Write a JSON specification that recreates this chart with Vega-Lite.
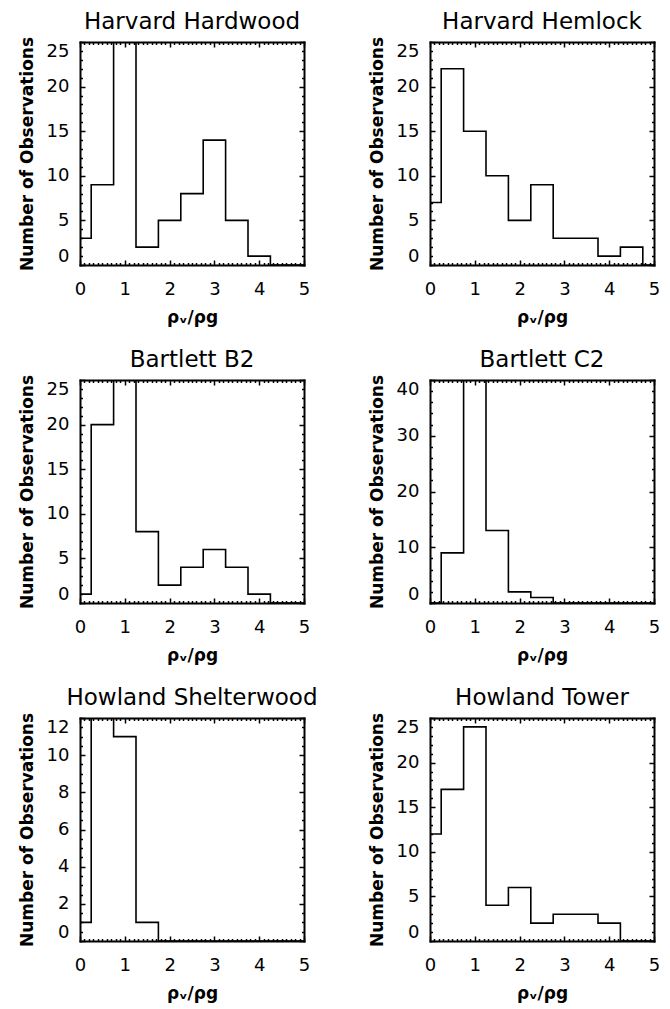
{
  "$schema": "https://vega.github.io/schema/vega-lite/v6.json",
  "background": "white",
  "padding": {"left": 18, "top": 11, "right": 5, "bottom": 5},
  "data": {"values": [
    {"site": "Harvard Hardwood", "x": 0, "n": 3},
    {"site": "Harvard Hardwood", "x": 0.25, "n": 9},
    {"site": "Harvard Hardwood", "x": 0.75, "n": 32},
    {"site": "Harvard Hardwood", "x": 1.25, "n": 2},
    {"site": "Harvard Hardwood", "x": 1.75, "n": 5},
    {"site": "Harvard Hardwood", "x": 2.25, "n": 8},
    {"site": "Harvard Hardwood", "x": 2.75, "n": 14},
    {"site": "Harvard Hardwood", "x": 3.25, "n": 5},
    {"site": "Harvard Hardwood", "x": 3.75, "n": 1},
    {"site": "Harvard Hardwood", "x": 4.25, "n": 0},
    {"site": "Harvard Hardwood", "x": 5, "n": 0},
    {"site": "Harvard Hemlock", "x": 0, "n": 7},
    {"site": "Harvard Hemlock", "x": 0.25, "n": 22},
    {"site": "Harvard Hemlock", "x": 0.75, "n": 15},
    {"site": "Harvard Hemlock", "x": 1.25, "n": 10},
    {"site": "Harvard Hemlock", "x": 1.75, "n": 5},
    {"site": "Harvard Hemlock", "x": 2.25, "n": 9},
    {"site": "Harvard Hemlock", "x": 2.75, "n": 3},
    {"site": "Harvard Hemlock", "x": 3.25, "n": 3},
    {"site": "Harvard Hemlock", "x": 3.75, "n": 1},
    {"site": "Harvard Hemlock", "x": 4.25, "n": 2},
    {"site": "Harvard Hemlock", "x": 4.75, "n": 0},
    {"site": "Harvard Hemlock", "x": 5, "n": 0},
    {"site": "Bartlett B2", "x": 0, "n": 1},
    {"site": "Bartlett B2", "x": 0.25, "n": 20},
    {"site": "Bartlett B2", "x": 0.75, "n": 30},
    {"site": "Bartlett B2", "x": 1.25, "n": 8},
    {"site": "Bartlett B2", "x": 1.75, "n": 2},
    {"site": "Bartlett B2", "x": 2.25, "n": 4},
    {"site": "Bartlett B2", "x": 2.75, "n": 6},
    {"site": "Bartlett B2", "x": 3.25, "n": 4},
    {"site": "Bartlett B2", "x": 3.75, "n": 1},
    {"site": "Bartlett B2", "x": 4.25, "n": 0},
    {"site": "Bartlett B2", "x": 5, "n": 0},
    {"site": "Bartlett C2", "x": 0, "n": 0},
    {"site": "Bartlett C2", "x": 0.25, "n": 9},
    {"site": "Bartlett C2", "x": 0.75, "n": 50},
    {"site": "Bartlett C2", "x": 1.25, "n": 13},
    {"site": "Bartlett C2", "x": 1.75, "n": 2},
    {"site": "Bartlett C2", "x": 2.25, "n": 1},
    {"site": "Bartlett C2", "x": 2.75, "n": 0},
    {"site": "Bartlett C2", "x": 5, "n": 0},
    {"site": "Howland Shelterwood", "x": 0, "n": 1},
    {"site": "Howland Shelterwood", "x": 0.25, "n": 15},
    {"site": "Howland Shelterwood", "x": 0.75, "n": 11},
    {"site": "Howland Shelterwood", "x": 1.25, "n": 1},
    {"site": "Howland Shelterwood", "x": 1.75, "n": 0},
    {"site": "Howland Shelterwood", "x": 5, "n": 0},
    {"site": "Howland Tower", "x": 0, "n": 12},
    {"site": "Howland Tower", "x": 0.25, "n": 17},
    {"site": "Howland Tower", "x": 0.75, "n": 24},
    {"site": "Howland Tower", "x": 1.25, "n": 4},
    {"site": "Howland Tower", "x": 1.75, "n": 6},
    {"site": "Howland Tower", "x": 2.25, "n": 2},
    {"site": "Howland Tower", "x": 2.75, "n": 3},
    {"site": "Howland Tower", "x": 3.25, "n": 3},
    {"site": "Howland Tower", "x": 3.75, "n": 2},
    {"site": "Howland Tower", "x": 4.25, "n": 0},
    {"site": "Howland Tower", "x": 5, "n": 0}
  ]},
  "columns": 2,
  "spacing": {"row": 115, "column": 126},
  "bounds": "flush",
  "concat": [
    {
      "title": "Harvard Hardwood",
      "width": 224, "height": 223,
      "transform": [{"filter": {"field": "site", "equal": "Harvard Hardwood"}}],
      "layer": [
        {"mark": {"type": "line", "interpolate": "step-after", "clip": true, "color": "black", "strokeWidth": 1.6},
         "encoding": {
           "x": {"field": "x", "type": "quantitative", "scale": {"domain": [0, 5], "nice": false, "zero": false},
                 "axis": {"orient": "bottom", "values": [0,1,2,3,4,5], "tickSize": -5, "format": "d", "labelFlush": false, "labelPadding": 20, "title": "ρᵥ/ρg", "titlePadding": 11}},
           "y": {"field": "n", "type": "quantitative", "scale": {"domain": [0, 25], "nice": false},
                 "axis": {"orient": "left", "values": [0,5,10,15,20,25], "tickSize": -5, "format": "d", "labelFlush": true, "labelPadding": 16, "title": "Number of Observations", "titlePadding": 10}}}},
        {"mark": {"type": "line", "interpolate": "step-after", "clip": true, "opacity": 0},
         "encoding": {
           "x": {"field": "x", "type": "quantitative", "axis": {"orient": "top", "values": [0,1,2,3,4,5], "tickSize": -5, "labels": false, "title": null}},
           "y": {"field": "n", "type": "quantitative", "axis": {"orient": "right", "values": [0,5,10,15,20,25], "tickSize": -5, "labels": false, "title": null}}}},
        {"mark": {"type": "line", "interpolate": "step-after", "clip": true, "opacity": 0},
         "encoding": {
           "x": {"field": "x", "type": "quantitative", "axis": {"orient": "bottom", "values": [0.1,0.2,0.3,0.4,0.5,0.6,0.7,0.8,0.9,1.1,1.2,1.3,1.4,1.5,1.6,1.7,1.8,1.9,2.1,2.2,2.3,2.4,2.5,2.6,2.7,2.8,2.9,3.1,3.2,3.3,3.4,3.5,3.6,3.7,3.8,3.9,4.1,4.2,4.3,4.4,4.5,4.6,4.7,4.8,4.9], "tickSize": -2.5, "labels": false, "domain": false, "title": null}},
           "y": {"field": "n", "type": "quantitative", "axis": {"orient": "left", "values": [1,2,3,4,6,7,8,9,11,12,13,14,16,17,18,19,21,22,23,24], "tickSize": -2.5, "labels": false, "domain": false, "title": null}}}},
        {"mark": {"type": "line", "interpolate": "step-after", "clip": true, "opacity": 0},
         "encoding": {
           "x": {"field": "x", "type": "quantitative", "axis": {"orient": "top", "values": [0.1,0.2,0.3,0.4,0.5,0.6,0.7,0.8,0.9,1.1,1.2,1.3,1.4,1.5,1.6,1.7,1.8,1.9,2.1,2.2,2.3,2.4,2.5,2.6,2.7,2.8,2.9,3.1,3.2,3.3,3.4,3.5,3.6,3.7,3.8,3.9,4.1,4.2,4.3,4.4,4.5,4.6,4.7,4.8,4.9], "tickSize": -2.5, "labels": false, "domain": false, "title": null}},
           "y": {"field": "n", "type": "quantitative", "axis": {"orient": "right", "values": [1,2,3,4,6,7,8,9,11,12,13,14,16,17,18,19,21,22,23,24], "tickSize": -2.5, "labels": false, "domain": false, "title": null}}}}
      ],
      "resolve": {"axis": {"x": "independent", "y": "independent"}}
    },
    {
      "title": "Harvard Hemlock",
      "width": 224, "height": 223,
      "transform": [{"filter": {"field": "site", "equal": "Harvard Hemlock"}}],
      "layer": [
        {"mark": {"type": "line", "interpolate": "step-after", "clip": true, "color": "black", "strokeWidth": 1.6},
         "encoding": {
           "x": {"field": "x", "type": "quantitative", "scale": {"domain": [0, 5], "nice": false, "zero": false},
                 "axis": {"orient": "bottom", "values": [0,1,2,3,4,5], "tickSize": -5, "format": "d", "labelFlush": false, "labelPadding": 20, "title": "ρᵥ/ρg", "titlePadding": 11}},
           "y": {"field": "n", "type": "quantitative", "scale": {"domain": [0, 25], "nice": false},
                 "axis": {"orient": "left", "values": [0,5,10,15,20,25], "tickSize": -5, "format": "d", "labelFlush": true, "labelPadding": 16, "title": "Number of Observations", "titlePadding": 10}}}},
        {"mark": {"type": "line", "interpolate": "step-after", "clip": true, "opacity": 0},
         "encoding": {
           "x": {"field": "x", "type": "quantitative", "axis": {"orient": "top", "values": [0,1,2,3,4,5], "tickSize": -5, "labels": false, "title": null}},
           "y": {"field": "n", "type": "quantitative", "axis": {"orient": "right", "values": [0,5,10,15,20,25], "tickSize": -5, "labels": false, "title": null}}}},
        {"mark": {"type": "line", "interpolate": "step-after", "clip": true, "opacity": 0},
         "encoding": {
           "x": {"field": "x", "type": "quantitative", "axis": {"orient": "bottom", "values": [0.1,0.2,0.3,0.4,0.5,0.6,0.7,0.8,0.9,1.1,1.2,1.3,1.4,1.5,1.6,1.7,1.8,1.9,2.1,2.2,2.3,2.4,2.5,2.6,2.7,2.8,2.9,3.1,3.2,3.3,3.4,3.5,3.6,3.7,3.8,3.9,4.1,4.2,4.3,4.4,4.5,4.6,4.7,4.8,4.9], "tickSize": -2.5, "labels": false, "domain": false, "title": null}},
           "y": {"field": "n", "type": "quantitative", "axis": {"orient": "left", "values": [1,2,3,4,6,7,8,9,11,12,13,14,16,17,18,19,21,22,23,24], "tickSize": -2.5, "labels": false, "domain": false, "title": null}}}},
        {"mark": {"type": "line", "interpolate": "step-after", "clip": true, "opacity": 0},
         "encoding": {
           "x": {"field": "x", "type": "quantitative", "axis": {"orient": "top", "values": [0.1,0.2,0.3,0.4,0.5,0.6,0.7,0.8,0.9,1.1,1.2,1.3,1.4,1.5,1.6,1.7,1.8,1.9,2.1,2.2,2.3,2.4,2.5,2.6,2.7,2.8,2.9,3.1,3.2,3.3,3.4,3.5,3.6,3.7,3.8,3.9,4.1,4.2,4.3,4.4,4.5,4.6,4.7,4.8,4.9], "tickSize": -2.5, "labels": false, "domain": false, "title": null}},
           "y": {"field": "n", "type": "quantitative", "axis": {"orient": "right", "values": [1,2,3,4,6,7,8,9,11,12,13,14,16,17,18,19,21,22,23,24], "tickSize": -2.5, "labels": false, "domain": false, "title": null}}}}
      ],
      "resolve": {"axis": {"x": "independent", "y": "independent"}}
    },
    {
      "title": "Bartlett B2",
      "width": 224, "height": 223,
      "transform": [{"filter": {"field": "site", "equal": "Bartlett B2"}}],
      "layer": [
        {"mark": {"type": "line", "interpolate": "step-after", "clip": true, "color": "black", "strokeWidth": 1.6},
         "encoding": {
           "x": {"field": "x", "type": "quantitative", "scale": {"domain": [0, 5], "nice": false, "zero": false},
                 "axis": {"orient": "bottom", "values": [0,1,2,3,4,5], "tickSize": -5, "format": "d", "labelFlush": false, "labelPadding": 20, "title": "ρᵥ/ρg", "titlePadding": 11}},
           "y": {"field": "n", "type": "quantitative", "scale": {"domain": [0, 25], "nice": false},
                 "axis": {"orient": "left", "values": [0,5,10,15,20,25], "tickSize": -5, "format": "d", "labelFlush": true, "labelPadding": 16, "title": "Number of Observations", "titlePadding": 10}}}},
        {"mark": {"type": "line", "interpolate": "step-after", "clip": true, "opacity": 0},
         "encoding": {
           "x": {"field": "x", "type": "quantitative", "axis": {"orient": "top", "values": [0,1,2,3,4,5], "tickSize": -5, "labels": false, "title": null}},
           "y": {"field": "n", "type": "quantitative", "axis": {"orient": "right", "values": [0,5,10,15,20,25], "tickSize": -5, "labels": false, "title": null}}}},
        {"mark": {"type": "line", "interpolate": "step-after", "clip": true, "opacity": 0},
         "encoding": {
           "x": {"field": "x", "type": "quantitative", "axis": {"orient": "bottom", "values": [0.1,0.2,0.3,0.4,0.5,0.6,0.7,0.8,0.9,1.1,1.2,1.3,1.4,1.5,1.6,1.7,1.8,1.9,2.1,2.2,2.3,2.4,2.5,2.6,2.7,2.8,2.9,3.1,3.2,3.3,3.4,3.5,3.6,3.7,3.8,3.9,4.1,4.2,4.3,4.4,4.5,4.6,4.7,4.8,4.9], "tickSize": -2.5, "labels": false, "domain": false, "title": null}},
           "y": {"field": "n", "type": "quantitative", "axis": {"orient": "left", "values": [1,2,3,4,6,7,8,9,11,12,13,14,16,17,18,19,21,22,23,24], "tickSize": -2.5, "labels": false, "domain": false, "title": null}}}},
        {"mark": {"type": "line", "interpolate": "step-after", "clip": true, "opacity": 0},
         "encoding": {
           "x": {"field": "x", "type": "quantitative", "axis": {"orient": "top", "values": [0.1,0.2,0.3,0.4,0.5,0.6,0.7,0.8,0.9,1.1,1.2,1.3,1.4,1.5,1.6,1.7,1.8,1.9,2.1,2.2,2.3,2.4,2.5,2.6,2.7,2.8,2.9,3.1,3.2,3.3,3.4,3.5,3.6,3.7,3.8,3.9,4.1,4.2,4.3,4.4,4.5,4.6,4.7,4.8,4.9], "tickSize": -2.5, "labels": false, "domain": false, "title": null}},
           "y": {"field": "n", "type": "quantitative", "axis": {"orient": "right", "values": [1,2,3,4,6,7,8,9,11,12,13,14,16,17,18,19,21,22,23,24], "tickSize": -2.5, "labels": false, "domain": false, "title": null}}}}
      ],
      "resolve": {"axis": {"x": "independent", "y": "independent"}}
    },
    {
      "title": "Bartlett C2",
      "width": 224, "height": 223,
      "transform": [{"filter": {"field": "site", "equal": "Bartlett C2"}}],
      "layer": [
        {"mark": {"type": "line", "interpolate": "step-after", "clip": true, "color": "black", "strokeWidth": 1.6},
         "encoding": {
           "x": {"field": "x", "type": "quantitative", "scale": {"domain": [0, 5], "nice": false, "zero": false},
                 "axis": {"orient": "bottom", "values": [0,1,2,3,4,5], "tickSize": -5, "format": "d", "labelFlush": false, "labelPadding": 20, "title": "ρᵥ/ρg", "titlePadding": 11}},
           "y": {"field": "n", "type": "quantitative", "scale": {"domain": [0, 40], "nice": false},
                 "axis": {"orient": "left", "values": [0,10,20,30,40], "tickSize": -5, "format": "d", "labelFlush": true, "labelPadding": 16, "title": "Number of Observations", "titlePadding": 10}}}},
        {"mark": {"type": "line", "interpolate": "step-after", "clip": true, "opacity": 0},
         "encoding": {
           "x": {"field": "x", "type": "quantitative", "axis": {"orient": "top", "values": [0,1,2,3,4,5], "tickSize": -5, "labels": false, "title": null}},
           "y": {"field": "n", "type": "quantitative", "axis": {"orient": "right", "values": [0,10,20,30,40], "tickSize": -5, "labels": false, "title": null}}}},
        {"mark": {"type": "line", "interpolate": "step-after", "clip": true, "opacity": 0},
         "encoding": {
           "x": {"field": "x", "type": "quantitative", "axis": {"orient": "bottom", "values": [0.1,0.2,0.3,0.4,0.5,0.6,0.7,0.8,0.9,1.1,1.2,1.3,1.4,1.5,1.6,1.7,1.8,1.9,2.1,2.2,2.3,2.4,2.5,2.6,2.7,2.8,2.9,3.1,3.2,3.3,3.4,3.5,3.6,3.7,3.8,3.9,4.1,4.2,4.3,4.4,4.5,4.6,4.7,4.8,4.9], "tickSize": -2.5, "labels": false, "domain": false, "title": null}},
           "y": {"field": "n", "type": "quantitative", "axis": {"orient": "left", "values": [2,4,6,8,12,14,16,18,22,24,26,28,32,34,36,38], "tickSize": -2.5, "labels": false, "domain": false, "title": null}}}},
        {"mark": {"type": "line", "interpolate": "step-after", "clip": true, "opacity": 0},
         "encoding": {
           "x": {"field": "x", "type": "quantitative", "axis": {"orient": "top", "values": [0.1,0.2,0.3,0.4,0.5,0.6,0.7,0.8,0.9,1.1,1.2,1.3,1.4,1.5,1.6,1.7,1.8,1.9,2.1,2.2,2.3,2.4,2.5,2.6,2.7,2.8,2.9,3.1,3.2,3.3,3.4,3.5,3.6,3.7,3.8,3.9,4.1,4.2,4.3,4.4,4.5,4.6,4.7,4.8,4.9], "tickSize": -2.5, "labels": false, "domain": false, "title": null}},
           "y": {"field": "n", "type": "quantitative", "axis": {"orient": "right", "values": [2,4,6,8,12,14,16,18,22,24,26,28,32,34,36,38], "tickSize": -2.5, "labels": false, "domain": false, "title": null}}}}
      ],
      "resolve": {"axis": {"x": "independent", "y": "independent"}}
    },
    {
      "title": "Howland Shelterwood",
      "width": 224, "height": 223,
      "transform": [{"filter": {"field": "site", "equal": "Howland Shelterwood"}}],
      "layer": [
        {"mark": {"type": "line", "interpolate": "step-after", "clip": true, "color": "black", "strokeWidth": 1.6},
         "encoding": {
           "x": {"field": "x", "type": "quantitative", "scale": {"domain": [0, 5], "nice": false, "zero": false},
                 "axis": {"orient": "bottom", "values": [0,1,2,3,4,5], "tickSize": -5, "format": "d", "labelFlush": false, "labelPadding": 20, "title": "ρᵥ/ρg", "titlePadding": 11}},
           "y": {"field": "n", "type": "quantitative", "scale": {"domain": [0, 12], "nice": false},
                 "axis": {"orient": "left", "values": [0,2,4,6,8,10,12], "tickSize": -5, "format": "d", "labelFlush": true, "labelPadding": 16, "title": "Number of Observations", "titlePadding": 10}}}},
        {"mark": {"type": "line", "interpolate": "step-after", "clip": true, "opacity": 0},
         "encoding": {
           "x": {"field": "x", "type": "quantitative", "axis": {"orient": "top", "values": [0,1,2,3,4,5], "tickSize": -5, "labels": false, "title": null}},
           "y": {"field": "n", "type": "quantitative", "axis": {"orient": "right", "values": [0,2,4,6,8,10,12], "tickSize": -5, "labels": false, "title": null}}}},
        {"mark": {"type": "line", "interpolate": "step-after", "clip": true, "opacity": 0},
         "encoding": {
           "x": {"field": "x", "type": "quantitative", "axis": {"orient": "bottom", "values": [0.1,0.2,0.3,0.4,0.5,0.6,0.7,0.8,0.9,1.1,1.2,1.3,1.4,1.5,1.6,1.7,1.8,1.9,2.1,2.2,2.3,2.4,2.5,2.6,2.7,2.8,2.9,3.1,3.2,3.3,3.4,3.5,3.6,3.7,3.8,3.9,4.1,4.2,4.3,4.4,4.5,4.6,4.7,4.8,4.9], "tickSize": -2.5, "labels": false, "domain": false, "title": null}},
           "y": {"field": "n", "type": "quantitative", "axis": {"orient": "left", "values": [0.5,1,1.5,2.5,3,3.5,4.5,5,5.5,6.5,7,7.5,8.5,9,9.5,10.5,11,11.5], "tickSize": -2.5, "labels": false, "domain": false, "title": null}}}},
        {"mark": {"type": "line", "interpolate": "step-after", "clip": true, "opacity": 0},
         "encoding": {
           "x": {"field": "x", "type": "quantitative", "axis": {"orient": "top", "values": [0.1,0.2,0.3,0.4,0.5,0.6,0.7,0.8,0.9,1.1,1.2,1.3,1.4,1.5,1.6,1.7,1.8,1.9,2.1,2.2,2.3,2.4,2.5,2.6,2.7,2.8,2.9,3.1,3.2,3.3,3.4,3.5,3.6,3.7,3.8,3.9,4.1,4.2,4.3,4.4,4.5,4.6,4.7,4.8,4.9], "tickSize": -2.5, "labels": false, "domain": false, "title": null}},
           "y": {"field": "n", "type": "quantitative", "axis": {"orient": "right", "values": [0.5,1,1.5,2.5,3,3.5,4.5,5,5.5,6.5,7,7.5,8.5,9,9.5,10.5,11,11.5], "tickSize": -2.5, "labels": false, "domain": false, "title": null}}}}
      ],
      "resolve": {"axis": {"x": "independent", "y": "independent"}}
    },
    {
      "title": "Howland Tower",
      "width": 224, "height": 223,
      "transform": [{"filter": {"field": "site", "equal": "Howland Tower"}}],
      "layer": [
        {"mark": {"type": "line", "interpolate": "step-after", "clip": true, "color": "black", "strokeWidth": 1.6},
         "encoding": {
           "x": {"field": "x", "type": "quantitative", "scale": {"domain": [0, 5], "nice": false, "zero": false},
                 "axis": {"orient": "bottom", "values": [0,1,2,3,4,5], "tickSize": -5, "format": "d", "labelFlush": false, "labelPadding": 20, "title": "ρᵥ/ρg", "titlePadding": 11}},
           "y": {"field": "n", "type": "quantitative", "scale": {"domain": [0, 25], "nice": false},
                 "axis": {"orient": "left", "values": [0,5,10,15,20,25], "tickSize": -5, "format": "d", "labelFlush": true, "labelPadding": 16, "title": "Number of Observations", "titlePadding": 10}}}},
        {"mark": {"type": "line", "interpolate": "step-after", "clip": true, "opacity": 0},
         "encoding": {
           "x": {"field": "x", "type": "quantitative", "axis": {"orient": "top", "values": [0,1,2,3,4,5], "tickSize": -5, "labels": false, "title": null}},
           "y": {"field": "n", "type": "quantitative", "axis": {"orient": "right", "values": [0,5,10,15,20,25], "tickSize": -5, "labels": false, "title": null}}}},
        {"mark": {"type": "line", "interpolate": "step-after", "clip": true, "opacity": 0},
         "encoding": {
           "x": {"field": "x", "type": "quantitative", "axis": {"orient": "bottom", "values": [0.1,0.2,0.3,0.4,0.5,0.6,0.7,0.8,0.9,1.1,1.2,1.3,1.4,1.5,1.6,1.7,1.8,1.9,2.1,2.2,2.3,2.4,2.5,2.6,2.7,2.8,2.9,3.1,3.2,3.3,3.4,3.5,3.6,3.7,3.8,3.9,4.1,4.2,4.3,4.4,4.5,4.6,4.7,4.8,4.9], "tickSize": -2.5, "labels": false, "domain": false, "title": null}},
           "y": {"field": "n", "type": "quantitative", "axis": {"orient": "left", "values": [1,2,3,4,6,7,8,9,11,12,13,14,16,17,18,19,21,22,23,24], "tickSize": -2.5, "labels": false, "domain": false, "title": null}}}},
        {"mark": {"type": "line", "interpolate": "step-after", "clip": true, "opacity": 0},
         "encoding": {
           "x": {"field": "x", "type": "quantitative", "axis": {"orient": "top", "values": [0.1,0.2,0.3,0.4,0.5,0.6,0.7,0.8,0.9,1.1,1.2,1.3,1.4,1.5,1.6,1.7,1.8,1.9,2.1,2.2,2.3,2.4,2.5,2.6,2.7,2.8,2.9,3.1,3.2,3.3,3.4,3.5,3.6,3.7,3.8,3.9,4.1,4.2,4.3,4.4,4.5,4.6,4.7,4.8,4.9], "tickSize": -2.5, "labels": false, "domain": false, "title": null}},
           "y": {"field": "n", "type": "quantitative", "axis": {"orient": "right", "values": [1,2,3,4,6,7,8,9,11,12,13,14,16,17,18,19,21,22,23,24], "tickSize": -2.5, "labels": false, "domain": false, "title": null}}}}
      ],
      "resolve": {"axis": {"x": "independent", "y": "independent"}}
    }
  ],
  "config": {
    "font": "DejaVu Sans",
    "view": {"stroke": null},
    "axis": {
      "grid": false,
      "domainColor": "black",
      "domainWidth": 2,
      "domainCap": "square",
      "tickColor": "black",
      "tickWidth": 1.5,
      "labelColor": "black",
      "labelFont": "DejaVu Sans",
      "labelFontSize": 18,
      "labelOverlap": false,
      "titleColor": "black",
      "titleFont": "DejaVu Sans",
      "titleFontSize": 17,
      "titleFontWeight": "bold"
    },
    "title": {"font": "DejaVu Sans", "fontSize": 23, "fontWeight": "normal", "color": "black", "offset": 2, "anchor": "middle"}
  }
}
